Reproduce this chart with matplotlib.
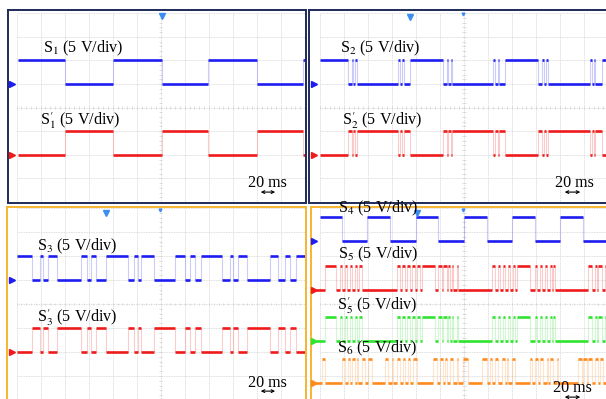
import matplotlib
matplotlib.use("Agg")
import matplotlib.pyplot as plt
import numpy as np

plt.rcParams["font.family"] = "Liberation Serif"
plt.rcParams["mathtext.fontset"] = "stix"

s1_edges = [2.0, 4.0, 6.05, 7.95, 10.0, 11.9]
s2_edges = [1.18, 1.32, 1.39, 1.47, 1.53, 3.26, 3.33, 3.42, 3.50, 3.75,
            5.14, 5.28, 5.35, 5.44, 5.50, 7.22, 7.29, 7.40, 7.47, 7.71,
            9.10, 9.25, 9.32, 9.42, 9.48, 11.25, 11.32, 11.40, 11.47, 11.74]
s3_edges = [0.64, 0.98, 1.10, 1.31, 1.68, 2.68, 2.93, 3.10, 3.31, 3.72,
            4.64, 4.89, 5.05, 5.18, 5.72, 6.59, 7.01, 7.21, 7.42, 7.67,
            8.54, 8.88, 9.00, 9.21, 9.58, 10.54, 10.87, 11.16, 11.37, 11.62]
s4_edges = [0.90, 1.97, 2.92, 3.99, 4.93, 6.00, 6.95, 7.99, 8.96, 10.00, 10.97]
s5_edges = [0.20, 0.65, 0.83, 0.90, 1.04, 1.11, 1.25, 1.32, 1.46, 1.53, 1.64, 1.74,
            3.22, 3.33, 3.40, 3.54, 3.61, 3.75, 3.82, 3.96, 4.03, 4.17, 4.24, 4.79,
            4.93, 5.07, 5.14, 5.28, 5.35, 5.42, 5.49, 5.56, 5.69, 5.76,
            7.15, 7.29, 7.43, 7.50, 7.64, 7.71, 7.85, 7.92, 8.06, 8.13, 8.19, 8.75,
            8.96, 9.03, 9.17, 9.24, 9.38, 9.45, 9.58, 9.65, 9.72, 9.79,
            11.18, 11.32, 11.46, 11.53, 11.60, 11.74, 11.88, 11.95]
s5p_edges = s5_edges  # S5' looks identical to S5 on the capture
s6_edges = [0.07, 0.21, 0.90, 1.04, 1.18, 1.25, 1.32, 1.46, 1.53, 1.60, 1.74, 1.88, 2.01, 2.15,
            2.71, 2.85, 2.99, 3.06, 3.20, 3.33, 3.47, 3.54, 3.68, 3.75, 3.89, 4.03,
            4.72, 4.86, 5.00, 5.14, 5.21, 5.28, 5.42, 5.56, 5.69, 5.76, 5.97, 6.17,
            6.74, 6.95, 7.08, 7.15, 7.29, 7.43, 7.57, 7.71, 7.78, 7.85, 7.99, 8.13,
            8.75, 8.82, 8.96, 9.10, 9.17, 9.30, 9.44, 9.51, 9.58, 9.72, 9.86, 9.93,
            10.76, 10.90, 10.97, 11.11, 11.18, 11.32, 11.46, 11.60, 11.67, 11.80]

labels = [r"S$_1$ (5 V/div)", r"S$_1^{\prime}$ (5 V/div)",
          r"S$_2$ (5 V/div)", r"S$_2^{\prime}$ (5 V/div)",
          r"S$_3$ (5 V/div)", r"S$_3^{\prime}$ (5 V/div)",
          r"S$_4$ (5 V/div)", r"S$_5$ (5 V/div)",
          r"S$_5^{\prime}$ (5 V/div)", r"S$_6$ (5 V/div)"]
start_levels = [1, 0, 1, 0, 1, 0, 1, 0, 0, 0]
time_scale = "20 ms"

blue, red, green, orange = "#1d1df2", "#ee1b1b", "#2fe42f", "#ff8a1c"
navy, gold = "#1e2a58", "#f5b630"
fs = 11.6

W, H = 606, 399
fig = plt.figure(figsize=(6.06, 3.99), dpi=100)


def add_panel(left, top, right, bottom, x0, dx, y0, dy, edge):
    ax = fig.add_axes([left / W, 1 - bottom / H, (right - left) / W, (bottom - top) / H])
    ax.set_xlim((left - x0) / dx, (right - x0) / dx)
    ax.set_ylim((y0 - bottom) / dy, (y0 - top) / dy)
    ax.set_xticks([])
    ax.set_yticks([])
    for s in ax.spines.values():
        s.set_color(edge)
        s.set_linewidth(1.4)
    ax.vlines(np.arange(0, 13), 0, 8, color="#d2d2d2", lw=0.6, ls=(0, (1, 1)), zorder=0)
    ax.hlines(np.arange(0, 9), 0, 12, color="#d2d2d2", lw=0.6, ls=(0, (1, 1)), zorder=0)
    ax.vlines(np.arange(0, 12.01, 0.2), 3.94, 4.06, color="#d0d0d0", lw=0.5, zorder=0)
    ax.hlines(np.arange(0, 8.01, 0.2), 5.93, 6.07, color="#d0d0d0", lw=0.5, zorder=0)
    return ax


def trace(ax, edges, start, low, color, t0, t1, mark_x):
    t = np.concatenate([[t0], edges, [t1]])
    lev = (start + np.arange(len(t) - 1)) % 2
    ax.vlines(edges, low, low + 1, color=color, alpha=0.22, lw=0.8, zorder=1)
    ax.hlines(low + lev, t[:-1], t[1:], color=color, lw=1.9, zorder=2)
    ax.plot(mark_x, low, marker=">", ms=4, color=color, clip_on=False, zorder=3)


def scale_bar(ax, x, y, ax0, ax1, ay):
    ax.text(x, y, time_scale, fontsize=fs, va="baseline", zorder=5)
    ax.annotate("", xy=(ax0, ay), xytext=(ax1, ay),
                arrowprops=dict(arrowstyle="<->", lw=0.8, mutation_scale=5, color="black"))


ax1 = add_panel(8, 10, 306, 203, 16.5, 24.05, 202, 23.6, navy)
ax2 = add_panel(309, 10, 612, 203, 320, 24, 202, 23.6, navy)
ax3 = add_panel(7, 207, 306, 402, 16.5, 24.05, 400, 24, gold)
ax4 = add_panel(311, 207, 612, 402, 320, 24, 400, 24, gold)

# panel 1
trace(ax1, s1_edges, start_levels[0], 5, blue, 0.05, 12, -0.19)
trace(ax1, s1_edges, start_levels[1], 2, red, 0.05, 12, -0.19)
ax1.text(1.10, 6.36, labels[0], fontsize=fs, va="baseline", zorder=5)
ax1.text(0.98, 3.26, labels[1], fontsize=fs, va="baseline", zorder=5)
ax1.plot(6.05, 7.88, marker="v", ms=4, color="#3b8ef0")
scale_bar(ax1, 9.63, 0.64, 10.04, 10.87, 0.42)

# panel 2
trace(ax2, s2_edges, start_levels[2], 5, blue, 0, 12, -0.23)
trace(ax2, s2_edges, start_levels[3], 2, red, 0, 12, -0.23)
ax2.text(0.83, 6.36, labels[2], fontsize=fs, va="baseline", zorder=5)
ax2.text(0.92, 3.26, labels[3], fontsize=fs, va="baseline", zorder=5)
ax2.plot(3.75, 7.85, marker="v", ms=4, color="#3b8ef0")
ax2.plot(5.96, 7.95, marker="v", ms=2, color="#3b8ef0")
scale_bar(ax2, 9.79, 0.64, 10.08, 10.96, 0.42)

# panel 3
trace(ax3, s3_edges, start_levels[4], 5, blue, 0, 12, -0.19)
trace(ax3, s3_edges, start_levels[5], 2, red, 0, 12, -0.19)
ax3.text(0.85, 6.25, labels[4], fontsize=fs, va="baseline", zorder=5)
ax3.text(0.85, 3.25, labels[5], fontsize=fs, va="baseline", zorder=5)
ax3.plot(3.72, 7.78, marker="v", ms=4, color="#3b8ef0")
ax3.plot(5.97, 7.9, marker="v", ms=2, color="#3b8ef0")
scale_bar(ax3, 9.63, 0.54, 10.04, 10.87, 0.37)

# panel 4
trace(ax4, s4_edges, start_levels[6], 6.63, blue, 0, 12, -0.23)
trace(ax4, s5_edges, start_levels[7], 4.58, red, -0.15, 12, -0.23)
trace(ax4, s5p_edges, start_levels[8], 2.46, green, -0.15, 12, -0.23)
trace(ax4, s6_edges, start_levels[9], 0.71, orange, -0.15, 12, -0.23)
ax4.text(0.75, 7.83, labels[6], fontsize=fs, va="baseline", zorder=5)
ax4.text(0.75, 5.88, labels[7], fontsize=fs, va="baseline", zorder=5)
ax4.text(0.71, 3.75, labels[8], fontsize=fs, va="baseline", zorder=5)
ax4.text(0.71, 2.00, labels[9], fontsize=fs, va="baseline", zorder=5)
ax4.plot(4.04, 7.78, marker="v", ms=4, color="#3b8ef0")
ax4.plot(5.96, 7.9, marker="v", ms=2, color="#3b8ef0")
scale_bar(ax4, 9.71, 0.33, 10.08, 10.96, 0.12)

fig.savefig("out.png", dpi=100)
